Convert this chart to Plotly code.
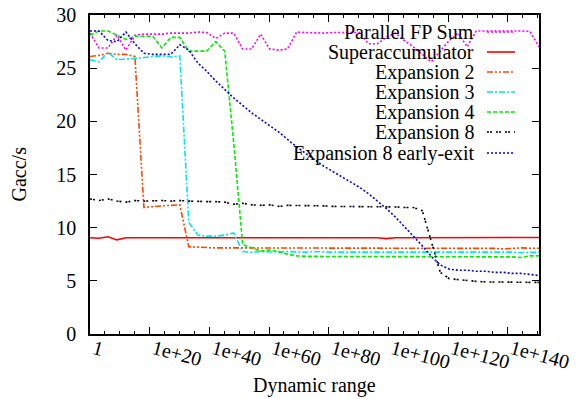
import plotly.graph_objects as go

# Dynamic range sampled as powers of two (exponent in bits)
range_bits = [0, 10, 20, 30, 40, 50, 60, 70, 80, 90,
              100, 110, 120, 130, 140, 150, 160, 170, 180, 190,
              200, 210, 220, 230, 240, 250, 260, 270, 280, 290,
              300, 310, 320, 330, 340, 350, 360, 370, 380, 390,
              400, 410, 420, 430, 440, 450, 460, 470, 480, 490, 500]

parallel_fp_sum = [28.3, 26.9, 26.9, 28.1, 26.7, 28.1, 28.2, 28.2, 28.2, 28.3,
                   28.3, 28.3, 28.4, 28.35, 27.8, 28.3, 28.3, 26.8, 26.8, 28.2,
                   26.8, 26.7, 26.8, 28.4, 28.35, 28.3, 28.3, 28.35, 28.35, 28.4,
                   28.35, 27.3, 27.3, 27.9, 28.3, 27.6, 27.0, 26.3, 25.6, 26.6,
                   27.6, 28.3, 27.0, 28.5, 28.5, 28.55, 28.55, 28.5, 28.5, 28.45, 27.0]

superaccumulator = [9.05, 9.0, 9.15, 8.85, 9.05, 9.05, 9.05, 9.05, 9.05, 9.1,
                    9.1, 9.1, 9.05, 9.05, 9.05, 9.05, 9.05, 9.05, 9.1, 9.1,
                    9.05, 9.05, 9.05, 9.05, 9.05, 9.05, 9.05, 9.05, 9.05, 9.05,
                    9.05, 9.05, 9.05, 8.97, 9.05, 9.05, 9.05, 9.05, 9.05, 9.05,
                    9.05, 9.05, 9.05, 9.05, 9.05, 9.05, 9.05, 9.05, 9.05, 9.05, 9.08]

expansion_2 = [26.1, 26.2, 26.4, 26.3, 26.3, 26.1, 11.9, 12.0, 12.05, 12.1,
               12.15, 8.2, 8.15, 8.1, 8.1, 8.1, 8.1, 8.1, 8.1, 8.05,
               8.1, 8.1, 8.1, 8.1, 8.1, 8.1, 8.1, 8.1, 8.1, 8.1,
               8.1, 8.1, 8.1, 8.1, 8.1, 8.1, 8.1, 8.1, 8.1, 8.1,
               8.1, 8.1, 8.1, 8.1, 8.1, 8.05, 8.0, 8.05, 8.1, 8.07, 8.07]

expansion_3 = [25.8, 25.6, 26.5, 25.8, 25.85, 25.9, 26.0, 26.1, 26.15, 26.05,
               26.15, 10.5, 9.3, 9.2, 9.2, 9.3, 9.5, 7.75, 7.7, 7.75,
               7.7, 7.7, 7.75, 7.7, 7.7, 7.75, 7.7, 7.7, 7.7, 7.7,
               7.7, 7.7, 7.7, 7.7, 7.7, 7.75, 7.7, 7.7, 7.75, 7.7,
               7.7, 7.7, 7.7, 7.7, 7.7, 7.7, 7.7, 7.7, 7.65, 7.7, 7.7]

expansion_4 = [28.1, 28.5, 28.5, 28.1, 27.7, 28.0, 28.0, 28.0, 26.9, 27.9,
               27.9, 26.6, 26.6, 26.6, 27.5, 26.6, 18.0, 8.4, 8.1, 7.8,
               7.9, 7.75, 7.5, 7.35, 7.3, 7.3, 7.3, 7.3, 7.3, 7.3,
               7.3, 7.3, 7.3, 7.3, 7.3, 7.3, 7.3, 7.3, 7.3, 7.3,
               7.3, 7.3, 7.3, 7.3, 7.3, 7.3, 7.3, 7.25, 7.2, 7.35, 7.35]

expansion_8 = [12.7, 12.55, 12.7, 12.5, 12.4, 12.55, 12.5, 12.55, 12.55, 12.5,
               12.55, 12.5, 12.45, 12.45, 12.45, 12.4, 12.2, 12.3, 12.15, 12.1,
               12.15, 12.0, 12.1, 12.1, 12.05, 12.1, 12.05, 12.0, 12.0, 12.0,
               12.0, 12.0, 12.0, 11.95, 11.95, 11.9, 11.9, 11.6, 8.6, 5.8,
               5.2, 5.1, 5.0, 4.95, 4.9, 4.88, 4.86, 4.86, 4.85, 4.85, 4.85]

expansion_8_early = [28.5, 28.5, 27.6, 27.5, 28.4, 27.3, 26.4, 26.3, 26.3, 26.3,
                     27.2, 26.7, 25.5, 24.7, 23.8, 23.0, 22.2, 21.5, 20.8, 20.2,
                     19.6, 19.0, 18.3, 17.6, 17.0, 16.4, 15.8, 15.3, 14.8, 14.3,
                     13.8, 13.2, 12.5, 11.8, 11.0, 10.1, 9.3, 8.3, 7.3, 6.5,
                     6.1, 6.0, 6.0, 5.9, 5.9, 5.8, 5.8, 5.7, 5.7, 5.6, 5.5]

series_names = ["Parallel FP Sum", "Superaccumulator", "Expansion 2", "Expansion 3",
                "Expansion 4", "Expansion 8", "Expansion 8 early-exit"]
series_values = [parallel_fp_sum, superaccumulator, expansion_2, expansion_3,
                 expansion_4, expansion_8, expansion_8_early]
series_colors = ["#ff00ff", "#ff0000", "#ff4500", "#00e5ee", "#00ee00", "#000000", "#0000ff"]
series_dash = ["2px,2px", "solid", "6px,2px,2px,2px,2px,2px", "6px,2px,2px,2px",
               "4px,2px", "2px,1px,2px,4px", "2px,2px"]

x_tick_exponents = [0, 20, 40, 60, 80, 100, 120, 140]
x_tick_labels = ["1", "1e+20", "1e+40", "1e+60", "1e+80", "1e+100", "1e+120", "1e+140"]
y_ticks = [0, 5, 10, 15, 20, 25, 30]

FONT = "Liberation Serif"
x_vals = [2.0 ** b for b in range_bits]

fig = go.Figure()
for name, vals, col, dash in zip(series_names, series_values, series_colors, series_dash):
    fig.add_trace(go.Scatter(x=x_vals, y=vals, mode="lines", name=name,
                             line=dict(color=col, width=1.6, dash=dash),
                             showlegend=False))

# legend (text right-aligned, sample on the right, gnuplot style)
PL, PR, PT, PB = 90, 539, 15, 334
W, H = PR - PL, PB - PT
row_y = [32, 52, 72, 92, 112, 132, 153]
for name, col, dash, ry in zip(series_names, series_colors, series_dash, row_y):
    yp = (PB - ry) / H
    fig.add_annotation(x=(476 - PL) / W, y=yp, xref="paper", yref="paper",
                       text=name, showarrow=False, xanchor="right", yanchor="middle",
                       font=dict(family=FONT, size=20, color="black"))
    fig.add_shape(type="line", xref="paper", yref="paper",
                  x0=(487 - PL) / W, x1=(515 - PL) / W, y0=yp, y1=yp,
                  line=dict(color=col, width=1.6, dash=dash))

minor_vals = [10.0 ** e for e in range(5, 151, 5) if e % 20 != 0]

fig.update_xaxes(type="log", range=[0, 150.5], automargin=False,
                 tickvals=[10.0 ** e for e in x_tick_exponents], ticktext=x_tick_labels,
                 tickangle=15, ticks="inside", ticklen=7, tickwidth=1, tickcolor="black",
                 showline=True, linecolor="black", linewidth=1.5, mirror="allticks",
                 showgrid=False, zeroline=False, ticklabelstandoff=-6, ticklabelshift=4,
                 minor=dict(tickvals=minor_vals, ticks="inside", ticklen=3,
                            tickcolor="black", showgrid=False),
                 tickfont=dict(family=FONT, size=20, color="black"))
fig.update_yaxes(range=[0, 30], tickvals=y_ticks, ticks="inside", ticklen=7,
                 tickwidth=1, tickcolor="black", automargin=False,
                 showline=True, linecolor="black", linewidth=1.5, mirror="allticks",
                 showgrid=False, zeroline=False, ticklabelstandoff=8,
                 tickfont=dict(family=FONT, size=20, color="black"))

fig.add_annotation(x=0.5, y=(PB - 385) / H, xref="paper", yref="paper",
                   text="Dynamic range", showarrow=False, xanchor="center", yanchor="middle",
                   font=dict(family=FONT, size=20, color="black"))
fig.add_annotation(x=(18 - PL) / W, y=0.5, xref="paper", yref="paper",
                   text="Gacc/s", showarrow=False, textangle=-90,
                   xanchor="center", yanchor="middle",
                   font=dict(family=FONT, size=20, color="black"))

fig.update_layout(width=582, height=399, paper_bgcolor="white", plot_bgcolor="white",
                  margin=dict(l=PL, r=582 - PR, t=PT, b=399 - PB),
                  showlegend=False)

fig.write_html("out.html", config={"displayModeBar": False},
               post_script="document.body.style.margin='0';document.body.style.padding='0';")
